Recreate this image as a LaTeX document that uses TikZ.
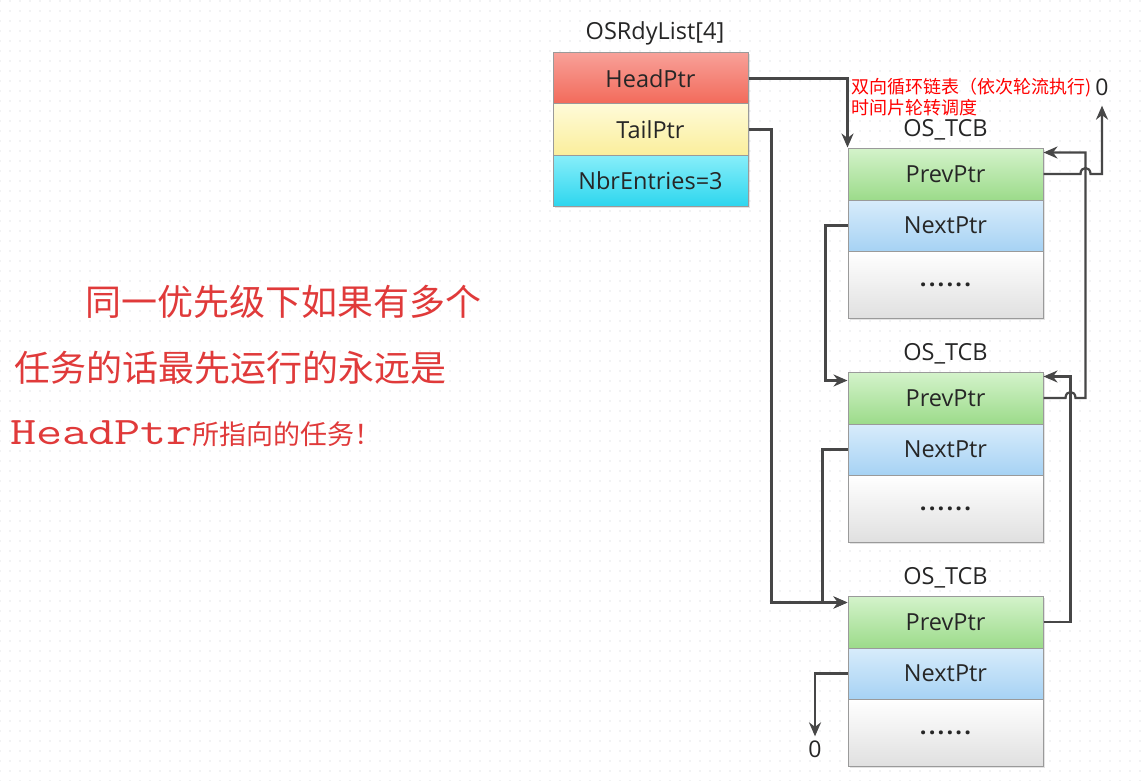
\documentclass[tikz,border=0pt]{standalone}
\usepackage{fontspec}
\setmainfont{Open Sans}
\newfontfamily\cjk{Noto Sans CJK SC}
\newfontfamily\monof[FakeStretch=1.3]{Latin Modern Mono}
\usetikzlibrary{arrows.meta,calc,shadings,shadows,patterns.meta}
\definecolor{headT}{HTML}{F8A098}
\definecolor{headB}{HTML}{F26A5A}
\definecolor{tailT}{HTML}{FFFBD8}
\definecolor{tailB}{HTML}{FAEE9C}
\definecolor{nbrT}{HTML}{88EEFA}
\definecolor{nbrB}{HTML}{2ED6EE}
\definecolor{prevT}{HTML}{D4F3CB}
\definecolor{prevB}{HTML}{9CDB8A}
\definecolor{nextT}{HTML}{D8ECFB}
\definecolor{nextB}{HTML}{A6D2F4}
\definecolor{restT}{HTML}{FFFFFF}
\definecolor{restB}{HTML}{E0E0E0}
\definecolor{boxgray}{HTML}{9A9A9A}
\definecolor{linec}{HTML}{474747}
\definecolor{textc}{HTML}{262626}
\definecolor{dotc}{HTML}{C8CCD0}
\definecolor{redtext}{HTML}{E03A3A}
\begin{document}
\begin{tikzpicture}[x=1pt,y=-1pt,
  cell/.style={draw=boxgray, line width=1pt, minimum width=195pt, inner sep=0pt,
    font=\fontsize{23.5}{26}\selectfont, text=textc,
    drop shadow={shadow xshift=1.5pt, shadow yshift=-1.5pt, opacity=0.22}},
  headcell/.style={cell, minimum height=51pt, top color=headT, bottom color=headB},
  tailcell/.style={cell, minimum height=51pt, top color=tailT, bottom color=tailB},
  nbrcell/.style={cell, minimum height=51pt, top color=nbrT, bottom color=nbrB},
  prevcell/.style={cell, minimum height=52pt, top color=prevT, bottom color=prevB},
  nextcell/.style={cell, minimum height=51pt, top color=nextT, bottom color=nextB},
  restcell/.style={cell, minimum height=67pt, top color=restT, bottom color=restB},
  title/.style={font=\fontsize{23.5}{26}\selectfont, text=textc, inner sep=0pt},
  zerolbl/.style={font=\fontsize{23}{26}\selectfont, text=textc, inner sep=0pt},
  arr/.style={draw=linec, line width=2.2pt, -{Stealth[length=14pt,width=12pt]}},
  note/.style={text=red, font=\cjk\fontsize{18}{21}\selectfont, align=left, inner sep=0pt},
  bigred/.style={text=redtext, inner sep=0pt, anchor=west}
]
\path[use as bounding box] (0,0) rectangle (1145,781);
\fill[white] (0,0) rectangle (1145,781);
\fill[pattern={Dots[distance=10pt,radius=0.7pt]}, pattern color=dotc] (0,0) rectangle (1145,781);

\newcommand\mydots{\textbf{.\kern2.2pt.\kern2.2pt.\kern2.2pt.\kern2.2pt.\kern2.2pt.}}

% OSRdyList
\node[title] (rdytitle) at (655,33) {OSRdyList[4]};
\node[headcell] (head) at (650.5,78.5) {HeadPtr};
\node[tailcell] (tail) at (650.5,129.5) {TailPtr};
\node[nbrcell] (nbr) at (650.5,180.5) {NbrEntries=3};

% TCB 1
\node[title] (tcbA) at (945.5,130) {OS\_TCB};
\node[prevcell] (p1) at (945.5,174) {PrevPtr};
\node[nextcell] (n1) at (945.5,225.5) {NextPtr};
\node[restcell] (r1) at (945.5,284.5) {\mydots};
% TCB 2
\node[title] (tcbB) at (945.5,354) {OS\_TCB};
\node[prevcell] (p2) at (945.5,398) {PrevPtr};
\node[nextcell] (n2) at (945.5,449.5) {NextPtr};
\node[restcell] (r2) at (945.5,508.5) {\mydots};
% TCB 3
\node[title] (tcbC) at (945.5,578) {OS\_TCB};
\node[prevcell] (p3) at (945.5,622) {PrevPtr};
\node[nextcell] (n3) at (945.5,673.5) {NextPtr};
\node[restcell] (r3) at (945.5,732.5) {\mydots};

% zero ends
\node[zerolbl] (zeroA) at (1102,87) {0};
\node[zerolbl] (zeroB) at (815,749) {0};

% note
\node[note, anchor=west] (notetext) at (851,97.5) {双向循环链表（依次轮流执行)\\时间片轮转调度};

% left text
\node[bigred, font=\cjk\fontsize{36}{40}\selectfont] (l1) at (85,302) {同一优先级下如果有多个};
\node[bigred, font=\cjk\fontsize{36}{40}\selectfont] (l2) at (14,368) {任务的话最先运行的永远是};
\node[bigred] (l3) at (10,434) {{\monof\fontsize{39}{42}\selectfont HeadPtr}{\cjk\fontsize{27}{30}\selectfont 所指向的任务！}};

% connectors
\draw[arr] (head.east) -| (p1.north west);
\draw[arr] (tail.east) -- ++(23,0) |- ([yshift=-7pt]p3.north west);
\draw[arr] (n1.west) -- ++(-22,0) |- ([yshift=-9pt]p2.north west);
\draw[arr] (n2.west) -- ++(-25,0) |- ([yshift=-7pt]p3.north west);
\draw[arr] (n3.west) -| ([yshift=4pt]zeroB.north);

\draw[arr] (p1.east) -- ($(p1.east)+(37,0)$)
  .. controls ($(p1.east)+(37,-8)$) and ($(p1.east)+(47,-8)$) .. ($(p1.east)+(47,0)$)
  -| ([yshift=-10pt]zeroA.south);
\draw[arr] (p2.east) -- ($(p2.east)+(22,0)$)
  .. controls ($(p2.east)+(22,-8)$) and ($(p2.east)+(32,-8)$) .. ($(p2.east)+(32,0)$)
  -- ($(p2.east)+(42,0)$) |- ([yshift=-5pt]p1.north east);
\draw[arr] (p3.east) -- ++(27,0) |- ([yshift=-5pt]p2.north east);
\end{tikzpicture}
\end{document}
